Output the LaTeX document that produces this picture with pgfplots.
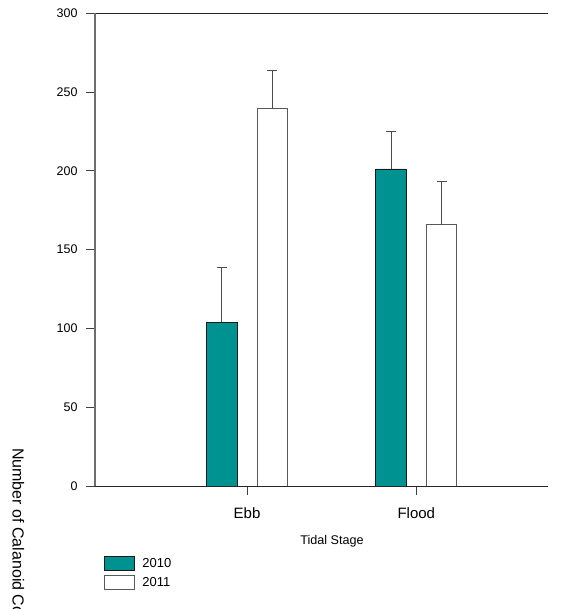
\documentclass[border=0pt]{standalone}
\usepackage{pgfplots}
\pgfplotsset{compat=1.18}
\usepackage{fontspec}
\setmainfont{Liberation Sans}
\definecolor{tealbar}{RGB}{0,145,145}
\definecolor{spine}{RGB}{110,110,110}

\begin{document}
\begin{tikzpicture}[x=1bp,y=1bp]
\useasboundingbox (0,0) rectangle (562,609);
\begin{axis}[
  at={(95bp,123bp)}, anchor=south west,
  scale only axis, width=453bp, height=472.7bp,
  xmin=0.102, xmax=2.778, ymin=0, ymax=300,
  axis x line*=box, axis y line*=left,
  x axis line style={draw=black!85, line width=0.9bp},
  y axis line style={draw=spine, line width=1.2bp},
  xtick={1,2}, xticklabels={Ebb,Flood},
  ytick={0,50,...,300},
  xtick pos=left, ytick pos=left,
  tick align=outside, major tick length=9bp,
  tick style={draw=black!75, line width=0.9bp},
  /pgf/number format/assume math mode=true,
  yticklabel style={font=\fontsize{12.5bp}{15bp}\selectfont, xshift=-5bp},
  xticklabel style={font=\fontsize{15bp}{18bp}\selectfont, yshift=-9bp},
  xlabel={Tidal Stage},
  every axis x label/.style={at={(rel axis cs:0.523,0)}, anchor=base, yshift=-59bp,
    font=\fontsize{12.6bp}{15bp}\selectfont},
  ybar=20bp, bar width=30.5bp,
  legend style={at={(rel axis cs:0.0205,-0.148)}, anchor=north west,
    draw=none, fill=none, inner sep=0pt, row sep=4bp,
    font=\fontsize{13bp}{15bp}\selectfont},
  legend cell align=left,
  legend image code/.code={\draw[#1] (0bp,-7bp) rectangle (30bp,7bp); \path (35bp,0bp);},
  error bars/error bar style={draw=black!70, line width=1bp},
  error bars/error mark options={rotate=90, mark size=5bp, draw=black!70, line width=1bp},
]
\addplot[fill=tealbar, draw=black!90, line width=0.9bp,
  error bars/.cd, y dir=plus, y explicit]
  coordinates {(1,103.9) +- (0,34.9) (2,201.2) +- (0,23.5)};
\addlegendentry{2010}
\addplot[fill=white, draw=black!65, line width=0.9bp,
  error bars/.cd, y dir=plus, y explicit]
  coordinates {(1,239.3) +- (0,24.7) (2,165.8) +- (0,27.3)};
\addlegendentry{2011}
\end{axis}
\begin{scope}
  \clip (0,0) rectangle (562,609);
  \node[rotate=-90, anchor=base west, inner sep=0pt,
        font=\fontsize{16bp}{19bp}\selectfont] at (12.7,161) {Number of Calanoid Copepods};
\end{scope}
\end{tikzpicture}
\end{document}
